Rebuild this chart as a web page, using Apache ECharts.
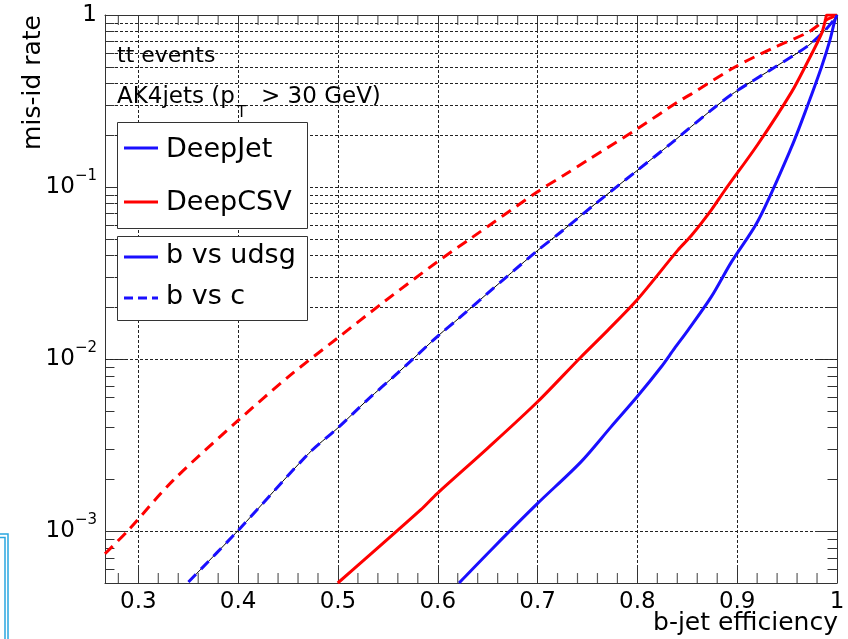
<!DOCTYPE html>
<html>
<head>
<meta charset="utf-8">
<script src="https://cdn.jsdelivr.net/npm/echarts@6/dist/echarts.min.js"></script>
<style>
html, body { margin: 0; padding: 0; background: #fff; }
#chart { width: 848px; height: 639px; }
</style>
</head>
<body>
<div id="chart"></div>
<script>
// b-jet efficiency (x) and mis-id rate (y)
var effJetUdsg = [0.6213, 0.6564, 0.70, 0.7435, 0.7736, 0.7997, 0.8238, 0.8372, 0.8506, 0.874, 0.894, 0.9209, 0.9543, 0.9711, 0.9844, 0.9928, 0.9978, 1.0];
var misJetUdsg = [0.0005, 0.00081, 0.00145, 0.00253, 0.00404, 0.00604, 0.0090, 0.01155, 0.0147, 0.0230, 0.0365, 0.0637, 0.170, 0.304, 0.497, 0.709, 0.927, 1.0];

var effCsvUdsg = [0.4998, 0.5828, 0.5996, 0.6498, 0.70, 0.7435, 0.7703, 0.80, 0.8406, 0.8539, 0.874, 0.8873, 0.9209, 0.9543, 0.9711, 0.9844, 0.9885, 0.990, 1.0];
var misCsvUdsg = [0.0005, 0.00133, 0.00166, 0.00303, 0.00565, 0.0103, 0.0147, 0.0222, 0.0430, 0.0521, 0.0735, 0.0952, 0.178, 0.355, 0.542, 0.776, 0.94, 1.0, 1.0];

var effJetC = [0.3502, 0.4, 0.4707, 0.4992, 0.5293, 0.5594, 0.6012, 0.6213, 0.6498, 0.6983, 0.7237, 0.7568, 0.8004, 0.8338, 0.874, 0.8974, 0.9376, 0.9711, 0.9877, 0.9962, 1.0];
var misJetC = [0.000507, 0.00101, 0.00283, 0.00395, 0.00578, 0.00826, 0.0138, 0.0173, 0.0241, 0.042, 0.055, 0.079, 0.1256, 0.1795, 0.280, 0.355, 0.497, 0.663, 0.811, 0.927, 1.0];

var effCsvC = [0.2666, 0.289, 0.3351, 0.40, 0.4523, 0.4992, 0.546, 0.5996, 0.633, 0.70, 0.7267, 0.75, 0.8004, 0.8406, 0.8539, 0.8974, 0.9376, 0.9711, 0.9877, 1.0];
var misCsvC = [0.00074, 0.0010, 0.00198, 0.0044, 0.00807, 0.0132, 0.0215, 0.0368, 0.0503, 0.094, 0.1175, 0.143, 0.219, 0.313, 0.347, 0.497, 0.649, 0.794, 0.927, 1.0];

var xMin = 0.2666, xMax = 1.0;
var yMin = 0.0005, yMax = 1;
var decades = [0.0001, 0.001, 0.01, 0.1];
var minorSteps = [2, 3, 4, 5, 6, 7, 8, 9];

var FONT = 'DejaVu Sans';
var BLUE = '#1a0fff';
var RED = '#ff0000';
var gridLine = { color: '#222', width: 1, type: [3, 2] };
var frame = { color: '#333', width: 1 };

function pairs(xs, ys)
{
    var out = [];
    for (var i = 0; i < xs.length; i++) out.push([xs[i], ys[i]]);
    return out;
}

// minor log grid lines (2..9 x each decade) and short ticks on both frame sides
var minorGrid = [];
var minorTicks = [];
var tickW = 0.0095;   // ~10px in x
for (var d = 0; d < decades.length; d++)
{
    for (var m = 0; m < minorSteps.length; m++)
    {
        var v = decades[d] * minorSteps[m];
        if (v > yMin && v < yMax)
        {
            minorGrid.push({ yAxis: v });
            minorTicks.push([{ coord: [xMin, v] }, { coord: [xMin + tickW, v] }]);
            minorTicks.push([{ coord: [xMax - tickW, v] }, { coord: [xMax, v] }]);
        }
    }
}

// minor x ticks every 0.02, drawn as thin rect symbols sitting on the bottom / top frame
var xTicksBottom = [];
var xTicksTop = [];
for (var k = 28; k < 100; k += 2)
{
    if (k % 10 === 0) continue;
    xTicksBottom.push([k / 100, yMin]);
    xTicksTop.push([k / 100, yMax]);
}

function yLabel(v)
{
    var e = Math.round(Math.log10(v));
    if (e === 0) return '{b|1}';
    return '{b|10}{s|\u2212' + (-e) + '}';
}

var xAxisBase = {
    type: 'value', min: xMin, max: xMax, splitNumber: 7,
    axisLine: { show: true, onZero: false, lineStyle: frame },
    axisTick: { show: true, inside: true, length: 18, lineStyle: frame }
};

var curveBase = { type: 'line', symbol: 'none', smooth: 0.3 };

var option = {
    animation: false,
    backgroundColor: '#fff',
    grid: { left: 105, right: 11, top: 15, bottom: 56, containLabel: false, outerBoundsMode: 'none' },
    xAxis: [
        Object.assign({}, xAxisBase, {
            position: 'bottom',
            splitLine: { show: true, lineStyle: gridLine },
            axisLabel: { fontFamily: FONT, fontSize: 23, color: '#000', margin: 8, showMinLabel: false }
        }),
        Object.assign({}, xAxisBase, {
            position: 'top',
            splitLine: { show: false },
            axisLabel: { show: false }
        })
    ],
    yAxis: [
        {
            type: 'log', logBase: 10, min: yMin, max: yMax, position: 'left',
            axisLine: { show: true, onZero: false, lineStyle: frame },
            axisTick: { show: true, inside: true, length: 22, lineStyle: frame },
            splitLine: { show: true, lineStyle: gridLine },
            axisLabel: {
                showMinLabel: false, margin: 8, color: '#000', fontFamily: FONT,
                formatter: yLabel,
                padding: [0, 0, 7, 0],
                rich: {
                    b: { fontFamily: FONT, fontSize: 23, color: '#000', padding: [7, 0, 0, 0], verticalAlign: 'bottom' },
                    s: { fontFamily: FONT, fontSize: 15, color: '#000', verticalAlign: 'top' }
                }
            }
        },
        {
            type: 'log', logBase: 10, min: yMin, max: yMax, position: 'right',
            axisLine: { show: true, onZero: false, lineStyle: frame },
            axisTick: { show: true, inside: true, length: 22, lineStyle: frame },
            splitLine: { show: false },
            axisLabel: { show: false }
        }
    ],
    series: [
        {
            name: 'grid', type: 'line', data: [], z: 1,
            markLine: {
                silent: true, symbol: 'none', z: 1, animation: false,
                label: { show: false },
                lineStyle: gridLine,
                data: minorGrid
            }
        },
        {
            name: 'ticks', type: 'line', data: [], z: 3,
            markLine: {
                silent: true, symbol: 'none', z: 3, animation: false,
                label: { show: false },
                lineStyle: { color: '#333', width: 1, type: 'solid' },
                data: minorTicks
            }
        },
        {
            name: 'xticks bottom', type: 'scatter', data: xTicksBottom, silent: true, z: 3,
            symbol: 'rect', symbolSize: [1.2, 10], symbolOffset: [0, -5],
            itemStyle: { color: '#333' }, clip: false
        },
        {
            name: 'xticks top', type: 'scatter', data: xTicksTop, silent: true, z: 3,
            symbol: 'rect', symbolSize: [1.2, 10], symbolOffset: [0, 5],
            itemStyle: { color: '#333' }, clip: false
        },
        Object.assign({}, curveBase, {
            name: 'DeepCSV b vs c', data: pairs(effCsvC, misCsvC),
            lineStyle: { color: RED, width: 3, type: [11, 7] }
        }),
        Object.assign({}, curveBase, {
            name: 'DeepJet b vs c (line)', data: pairs(effJetC, misJetC),
            lineStyle: { color: '#000', width: 1 }
        }),
        Object.assign({}, curveBase, {
            name: 'DeepJet b vs c', data: pairs(effJetC, misJetC),
            lineStyle: { color: BLUE, width: 3, type: [11, 7] }
        }),
        Object.assign({}, curveBase, {
            name: 'DeepCSV b vs udsg', data: pairs(effCsvUdsg, misCsvUdsg),
            lineStyle: { color: RED, width: 3 }
        }),
        Object.assign({}, curveBase, {
            name: 'DeepJet b vs udsg', data: pairs(effJetUdsg, misJetUdsg),
            lineStyle: { color: BLUE, width: 3 }
        })
    ],
    graphic: [
        { type: 'text', x: 33, y: 15, rotation: Math.PI / 2, z: 100,
          style: { text: 'mis-id rate', fontFamily: FONT, fontSize: 25, fill: '#000', align: 'right', verticalAlign: 'middle' } },
        { type: 'text', x: 838, y: 623, z: 100,
          style: { text: 'b-jet efficiency', fontFamily: FONT, fontSize: 25, fill: '#000', align: 'right', verticalAlign: 'middle' } },
        { type: 'text', x: 117, y: 56, z: 100,
          style: { text: 'tt events', fontFamily: FONT, fontSize: 22, fill: '#000', align: 'left', verticalAlign: 'middle' } },
        { type: 'text', x: 117, y: 97, z: 100,
          style: { text: 'AK4jets (p', fontFamily: FONT, fontSize: 23, fill: '#000', align: 'left', verticalAlign: 'middle' } },
        { type: 'text', x: 237, y: 113, z: 100,
          style: { text: 'T', fontFamily: FONT, fontSize: 15, fill: '#000', align: 'left', verticalAlign: 'middle' } },
        { type: 'text', x: 261, y: 97, z: 100,
          style: { text: '> 30 GeV)', fontFamily: FONT, fontSize: 23, fill: '#000', align: 'left', verticalAlign: 'middle' } },

        { type: 'rect', z: 100, shape: { x: 117.5, y: 122.5, width: 190, height: 106 },
          style: { fill: '#fff', stroke: '#333', lineWidth: 1 } },
        { type: 'line', z: 101, shape: { x1: 124, y1: 148, x2: 158, y2: 148 }, style: { stroke: BLUE, lineWidth: 3 } },
        { type: 'text', x: 166, y: 150, z: 101,
          style: { text: 'DeepJet', fontFamily: FONT, fontSize: 27, fill: '#000', align: 'left', verticalAlign: 'middle' } },
        { type: 'line', z: 101, shape: { x1: 124, y1: 202, x2: 158, y2: 202 }, style: { stroke: RED, lineWidth: 3 } },
        { type: 'text', x: 166, y: 203, z: 101,
          style: { text: 'DeepCSV', fontFamily: FONT, fontSize: 27, fill: '#000', align: 'left', verticalAlign: 'middle' } },

        { type: 'rect', z: 100, shape: { x: 117.5, y: 236.5, width: 190, height: 84 },
          style: { fill: '#fff', stroke: '#333', lineWidth: 1 } },
        { type: 'line', z: 101, shape: { x1: 124, y1: 257, x2: 158, y2: 257 }, style: { stroke: BLUE, lineWidth: 3 } },
        { type: 'text', x: 166, y: 256, z: 101,
          style: { text: 'b vs udsg', fontFamily: FONT, fontSize: 27, fill: '#000', align: 'left', verticalAlign: 'middle' } },
        { type: 'line', z: 101, shape: { x1: 124, y1: 298, x2: 158, y2: 298 }, style: { stroke: BLUE, lineWidth: 3, lineDash: [9, 5] } },
        { type: 'text', x: 166, y: 297, z: 101,
          style: { text: 'b vs c', fontFamily: FONT, fontSize: 27, fill: '#000', align: 'left', verticalAlign: 'middle' } },

        // cyan bracket at the lower-left edge of the screenshot
        { type: 'polyline', z: 100, shape: { points: [[0, 534], [8, 534], [8, 639]] }, style: { stroke: '#2aa6e0', fill: null, lineWidth: 1.5 } },
        { type: 'polyline', z: 100, shape: { points: [[0, 537.5], [5, 537.5], [5, 639]] }, style: { stroke: '#2aa6e0', fill: null, lineWidth: 1.5 } }
    ]
};

var myChart = echarts.init(document.getElementById('chart'));
myChart.setOption(option);
</script>
</body>
</html>
